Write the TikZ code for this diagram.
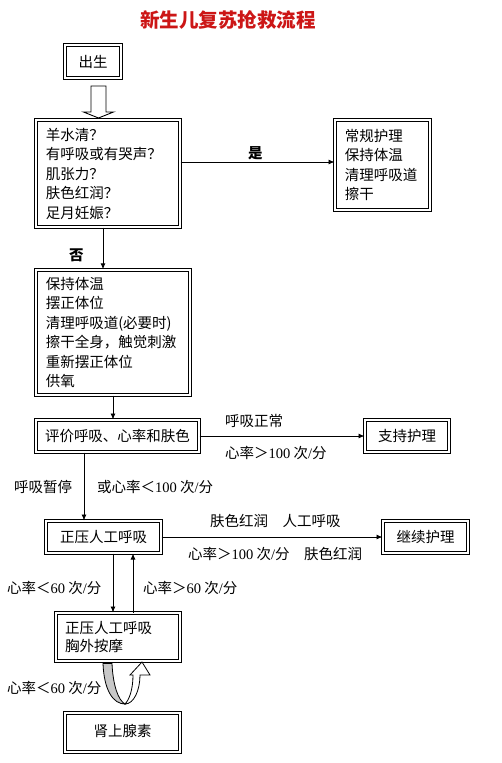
\documentclass[tikz,border=0pt]{standalone}
\usepackage{fontspec}
\setmainfont{Noto Sans CJK SC}
\newfontfamily\lat{Liberation Serif}
\usetikzlibrary{arrows.meta}
\definecolor{titlered}{RGB}{204,22,22}
\definecolor{bandgray}{RGB}{200,200,200}
\begin{document}
\begin{tikzpicture}[x=1pt,y=-1pt,
  box/.style={draw, double, double distance=1.8pt, line width=1pt, inner sep=0pt,
    font=\fontsize{14.5}{19.5}\selectfont},
  thickbox/.style={box, line width=1.25pt},
  arr/.style={line width=0.9pt, -{Latex[length=6pt,width=5pt]}},
  lbl/.style={inner sep=0pt, anchor=west, font=\fontsize{14.5}{17}\selectfont},
  blbl/.style={lbl, font=\fontsize{14.5}{17}\selectfont\bfseries},
]
\useasboundingbox (0,0) rectangle (502,763);
\fill[white] (0,0) rectangle (502,763);

% title
\node[font=\fontsize{19.5}{19.5}\selectfont\bfseries, text=titlered, inner sep=0pt] (title) at (228,20) {新生儿复苏抢救流程};

% boxes
\node[box, minimum width=56pt, minimum height=33pt] (birth) at (93,61.5) {出生};
\node[thickbox, minimum width=144pt, minimum height=107pt, text width=124.4pt, align=left] (q) at (108,173.5)
  {羊水清？\\有呼吸或有哭声？\\肌张力？\\肤色红润？\\足月妊娠？};
\node[box, minimum width=95pt, minimum height=90pt, text width=75.4pt, align=left] (routine) at (382.5,165)
  {常规护理\\保持体温\\清理呼吸道\\擦干};
\node[thickbox, minimum width=154pt, minimum height=125pt, text width=134.4pt, align=left] (steps) at (113,332.5)
  {保持体温\\摆正体位\\清理呼吸道(必要时)\\擦干全身，触觉刺激\\重新摆正体位\\供氧};
\node[box, minimum width=163pt, minimum height=32pt] (eval) at (117.5,436) {评价呼吸、心率和肤色};
\node[box, minimum width=84pt, minimum height=32pt] (support) at (407,436) {支持护理};
\node[box, minimum width=115pt, minimum height=32pt] (ppv) at (103.5,537) {正压人工呼吸};
\node[box, minimum width=85pt, minimum height=32pt] (cont) at (425.5,537) {继续护理};
\node[box, minimum width=124pt, minimum height=48pt, text width=106pt, align=left,
  font=\fontsize{14.5}{17.6}\selectfont] (cpr) at (118,637) {正压人工呼吸\\胸外按摩};
\node[box, minimum width=115pt, minimum height=39pt] (epi) at (122.5,732.5) {\raisebox{4pt}{肾上腺素}};

% reference coordinates
\coordinate (y162) at (0,162);
\coordinate (x103) at (103,0);
\coordinate (x113) at (113,0);
\coordinate (x84) at (84,0);
\coordinate (x133) at (133,0);

% hollow arrow birth -> q
\draw[line width=0.9pt, fill=white] (91,86) -- (106,86) -- (106,112) -- (113.5,112) -- (98.5,118)
  -- (83.5,112) -- (91,112) -- cycle;

% connectors
\draw[arr] (q.east |- y162) -- (routine.west |- y162);
\draw[arr] (q.south -| x103) -- (steps.north -| x103);
\draw[arr] (steps.south -| x113) -- (eval.north -| x113);
\draw[arr] (eval.east) -- (support.west);
\draw[arr] (eval.south -| x84) -- (ppv.north -| x84);
\draw[arr] (ppv.east) -- (cont.west);
\draw[arr] (ppv.south -| x113) -- (cpr.north -| x113);
\draw[arr] (cpr.north -| x133) -- (ppv.south -| x133);

% curved arrow under cpr
\draw[line width=0.8pt, fill=bandgray] (103,663.5) .. controls (104,690) and (113,704) .. (125,704)
  .. controls (118,700) and (113,685) .. (112,663.5) -- cycle;
\draw[line width=0.8pt, fill=white] (125,704) .. controls (134,704) and (140,690) .. (140,675)
  -- (150,675) -- (142,662) -- (130,675) -- (133,675)
  .. controls (133,690) and (129,700) .. (125,704) -- cycle;

% labels
\node[blbl] (yes) at (248,153) {是};
\node[blbl] (no) at (69,255) {否};
\node[lbl] (l1) at (225,421) {呼吸正常};
\node[lbl] (l2) at (225,453) {心率＞{\lat 100} 次{\lat /}分};
\node[lbl] (l3) at (14,487) {呼吸暂停};
\node[lbl] (l4) at (97,487) {或心率＜{\lat 100} 次{\lat /}分};
\node[lbl] (l5) at (210,521) {肤色红润　人工呼吸};
\node[lbl] (l6) at (188,554) {心率＞{\lat 100} 次{\lat /}分　肤色红润};
\node[lbl] (l7) at (7,588) {心率＜{\lat 60} 次{\lat /}分};
\node[lbl] (l8) at (143,588) {心率＞{\lat 60} 次{\lat /}分};
\node[lbl] (l9) at (7,688) {心率＜{\lat 60} 次{\lat /}分};
\end{tikzpicture}
\end{document}
